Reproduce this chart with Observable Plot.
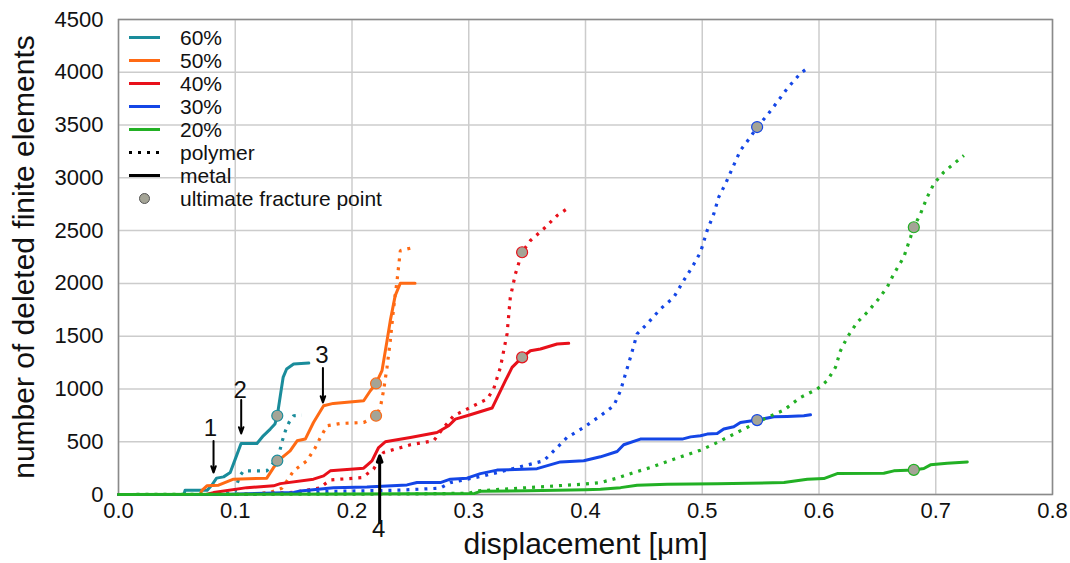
<!DOCTYPE html>
<html><head><meta charset="utf-8">
<script src="https://cdn.jsdelivr.net/npm/d3@7"></script>
<script src="https://cdn.jsdelivr.net/npm/@observablehq/plot@0.6"></script>
<style>
body{margin:0;background:#fff;font-family:"Liberation Sans",Arial,sans-serif;}
#wrap{position:relative;width:1070px;height:563px;}
#legend{position:absolute;left:129px;top:26px;font-size:21px;color:#111;line-height:23px;}
.row{display:flex;align-items:center;height:23px;}
.sw{width:31px;height:3px;margin-right:20px;}
.dotsw{width:31px;height:12px;margin-right:20px;display:flex;align-items:center;justify-content:center;}
</style>
</head><body>
<div id="wrap"><div id="legend"></div></div>
<script>
// ---------- data ----------
const seriesNames = ["60%", "50%", "40%", "30%", "20%"];
const seriesColors = ["#1a8c9b", "#ff6a14", "#e8101a", "#1446e6", "#22b024"];

const x60m = [0, 0.056, 0.057, 0.076, 0.080, 0.084, 0.090, 0.0957, 0.100, 0.105, 0.1186, 0.124, 0.130, 0.134, 0.136, 0.1386, 0.141, 0.144, 0.150, 0.163];
const y60m = [0, 0, 40, 40, 90, 155, 167, 208, 335, 483, 483, 556, 620, 667, 746, 936, 1109, 1189, 1236, 1245];
const x60p = [0, 0.09, 0.100, 0.1015, 0.104, 0.107, 0.127, 0.133, 0.136, 0.1403, 0.143, 0.146, 0.150, 0.157];
const y60p = [0, 0, 30, 100, 176, 224, 224, 303, 320, 509, 604, 682, 746, 752];

const x50m = [0, 0.070, 0.0715, 0.0757, 0.0857, 0.0985, 0.127, 0.1328, 0.140, 0.147, 0.153, 0.160, 0.167, 0.1757, 0.184, 0.210, 0.2157, 0.2206, 0.2257, 0.230, 0.2328, 0.237, 0.2414, 0.254];
const y50m = [0, 0, 40, 82, 88, 145, 155, 255, 350, 414, 509, 525, 682, 841, 863, 888, 983, 1052, 1173, 1457, 1647, 1884, 2001, 2001];
const x50p = [0, 0.11, 0.13, 0.14, 0.1443, 0.150, 0.1614, 0.1686, 0.1729, 0.1786, 0.190, 0.210, 0.2157, 0.2206, 0.2243, 0.227, 0.230, 0.2328, 0.2357, 0.2386, 0.2414, 0.2514];
const y50p = [0, 0, 20, 60, 129, 224, 319, 445, 540, 651, 673, 682, 714, 746, 825, 983, 1204, 1457, 1773, 2027, 2311, 2337];

const x40m = [0, 0.075, 0.0814, 0.110, 0.1328, 0.1386, 0.167, 0.1757, 0.1814, 0.210, 0.2171, 0.2228, 0.2285, 0.250, 0.2728, 0.2828, 0.2885, 0.2985, 0.320, 0.3314, 0.3371, 0.3457, 0.3528, 0.3614, 0.3757, 0.3856];
const y40m = [0, 0, 18, 65, 82, 103, 145, 176, 224, 249, 319, 445, 499, 540, 587, 651, 714, 746, 819, 1078, 1204, 1299, 1362, 1378, 1426, 1432];
const x40p = [0, 0.10, 0.15, 0.172, 0.1814, 0.2085, 0.2185, 0.227, 0.250, 0.270, 0.2785, 0.2871, 0.2985, 0.3157, 0.3213, 0.3271, 0.3328, 0.3356, 0.340, 0.3457, 0.3528, 0.3642, 0.3757, 0.3842];
const y40p = [0, 0, 20, 60, 138, 160, 240, 398, 471, 509, 635, 746, 809, 904, 999, 1204, 1521, 1868, 2090, 2295, 2406, 2517, 2643, 2707];

const x30m = [0, 0.09, 0.15, 0.1557, 0.1842, 0.2128, 0.2471, 0.2557, 0.2757, 0.2842, 0.2985, 0.310, 0.3242, 0.3585, 0.3785, 0.3985, 0.4128, 0.4271, 0.4327, 0.447, 0.4828, 0.490, 0.4985, 0.5042, 0.5128, 0.5184, 0.527, 0.5327, 0.547, 0.5613, 0.5727, 0.587, 0.5927];
const y30m = [0, 0, 20, 34, 65, 72, 91, 113, 113, 145, 155, 198, 231, 245, 309, 319, 357, 407, 471, 525, 525, 546, 556, 572, 578, 620, 641, 682, 705, 736, 739, 746, 755];
const x30p = [0, 0.12, 0.1557, 0.1842, 0.2414, 0.2757, 0.2842, 0.3128, 0.3414, 0.3642, 0.3757, 0.3842, 0.3985, 0.4128, 0.4242, 0.430, 0.4342, 0.4385, 0.4442, 0.4528, 0.4642, 0.4756, 0.4841, 0.4913, 0.4985, 0.5042, 0.5099, 0.5141, 0.5199, 0.5256, 0.5327, 0.5413, 0.547, 0.5556, 0.5642, 0.5727, 0.584, 0.5913];
const y30p = [0, 0, 15, 30, 41, 60, 113, 176, 255, 319, 445, 540, 635, 746, 841, 983, 1141, 1299, 1521, 1616, 1758, 1868, 2027, 2153, 2295, 2501, 2659, 2817, 2944, 3086, 3260, 3386, 3481, 3592, 3718, 3845, 3988, 4050];

const x20m = [0, 0.20, 0.305, 0.31, 0.35, 0.40, 0.4128, 0.430, 0.4442, 0.470, 0.5128, 0.570, 0.590, 0.6041, 0.6156, 0.6555, 0.6641, 0.6812, 0.6898, 0.6955, 0.7098, 0.727];
const y20m = [0, 5, 10, 30, 35, 45, 50, 65, 88, 98, 103, 113, 145, 151, 198, 202, 224, 233, 246, 281, 297, 309];
const x20p = [0, 0.25, 0.30, 0.307, 0.336, 0.3985, 0.4128, 0.4271, 0.4413, 0.4556, 0.470, 0.4841, 0.4985, 0.5128, 0.527, 0.5413, 0.5556, 0.570, 0.584, 0.5985, 0.607, 0.6141, 0.6184, 0.6242, 0.6327, 0.6413, 0.6499, 0.6584, 0.6641, 0.6726, 0.6784, 0.6812, 0.6869, 0.6927, 0.6984, 0.7069, 0.7155, 0.7241];
const y20p = [0, 5, 12, 34, 55, 98, 113, 155, 208, 255, 312, 366, 420, 492, 572, 651, 730, 800, 919, 999, 1078, 1204, 1362, 1489, 1631, 1726, 1837, 1963, 2090, 2248, 2437, 2532, 2659, 2817, 2944, 3054, 3134, 3212];

// ultimate fracture points
const fracSeries = ["60%", "60%", "50%", "50%", "40%", "40%", "30%", "30%", "20%", "20%"];
const fracX = [0.136, 0.136, 0.2206, 0.2206, 0.3457, 0.3457, 0.547, 0.547, 0.6812, 0.6812];
const fracY = [746, 320, 1052, 746, 1299, 2295, 3481, 705, 2532, 233];

// annotations
const annText = ["1", "2", "3", "4"];
const annArrowX = [0.0814, 0.1051, 0.1751, 0.2237];
const annArrowY1 = [508, 895, 1198, -267];
const annArrowY2 = [208, 578, 872, 366];
const annTextX = [0.0787, 0.1043, 0.1743, 0.2228];
const annTextY = [629, 990, 1315, -329];
const annWidth = [2, 2, 2, 3];

const xTicks = [0, 0.1, 0.2, 0.3, 0.4, 0.5, 0.6, 0.7, 0.8];
const yTicks = [0, 500, 1000, 1500, 2000, 2500, 3000, 3500, 4000, 4500];
const xTitle = "displacement [μm]";
const yTitle = "number of deleted finite elements";

const legendLabels = ["60%", "50%", "40%", "30%", "20%", "polymer", "metal", "ultimate fracture point"];

// ---------- build ----------
const metal = [[x60m, y60m], [x50m, y50m], [x40m, y40m], [x30m, y30m], [x20m, y20m]];
const polymer = [[x60p, y60p], [x50p, y50p], [x40p, y40p], [x30p, y30p], [x20p, y20p]];
const toRows = (xs, ys, s) => xs.map((x, i) => ({x, y: ys[i], s}));
const colorOf = s => seriesColors[seriesNames.indexOf(s)];

const lineMarks = [];
seriesNames.forEach((s, i) => {
  lineMarks.push(Plot.line(toRows(polymer[i][0], polymer[i][1], s), {x: "x", y: "y", stroke: seriesColors[i], strokeWidth: 3.2, strokeDasharray: "3,6", strokeLinecap: "butt", strokeLinejoin: "miter"}));
  lineMarks.push(Plot.line(toRows(metal[i][0], metal[i][1], s), {x: "x", y: "y", stroke: seriesColors[i], strokeWidth: 3}));
});

const frac = fracX.map((x, i) => ({x, y: fracY[i], s: fracSeries[i]}));
const ann = annText.map((t, i) => ({t, ax: annArrowX[i], y1: annArrowY1[i], y2: annArrowY2[i], tx: annTextX[i], ty: annTextY[i], w: annWidth[i]}));

const chart = Plot.plot({
  width: 1070, height: 563,
  marginLeft: 118, marginRight: 18, marginTop: 19, marginBottom: 69,
  x: {domain: [0, 0.8]},
  y: {domain: [0, 4500]},
  style: {fontFamily: "'Liberation Sans', Arial, sans-serif", background: "white", color: "#111"},
  marks: [
    Plot.gridX(xTicks, {stroke: "#cccccc", strokeOpacity: 1, strokeWidth: 1.5}),
    Plot.gridY(yTicks, {stroke: "#cccccc", strokeOpacity: 1, strokeWidth: 1.5}),
    Plot.frame({stroke: "#8a8a8a", strokeWidth: 1.5}),
    Plot.axisX(xTicks, {tickFormat: d => d.toFixed(1), tickSize: 0, tickPadding: 8, fontSize: 22, label: null}),
    Plot.axisY(yTicks, {tickFormat: d3.format("d"), tickSize: 0, tickPadding: 15, fontSize: 22, label: null}),
    Plot.text([xTitle], {frameAnchor: "bottom", dy: 50, lineAnchor: "middle", textAnchor: "middle", fontSize: 30, text: d => d}),
    Plot.text([yTitle], {frameAnchor: "left", dx: -94, rotate: -90, textAnchor: "middle", lineAnchor: "middle", fontSize: 30, text: d => d}),
    ...lineMarks,
    Plot.dot(frac, {x: "x", y: "y", r: 5.5, fill: "#a4a496", stroke: d => colorOf(d.s), strokeWidth: 1.2}),
    Plot.arrow(ann, {x1: "ax", x2: "ax", y1: "y1", y2: "y2", stroke: "black", strokeWidth: d => d.w, headLength: 10, headAngle: 40}),
    Plot.text(ann, {x: "tx", y: "ty", text: "t", fontSize: 24, fill: "#111"})
  ]
});
document.getElementById("wrap").prepend(chart);

// legend
const legend = d3.select("#legend");
legendLabels.forEach((lab, i) => {
  const row = legend.append("div").attr("class", "row");
  if (i < seriesNames.length) {
    row.append("div").attr("class", "sw").style("background", seriesColors[i]);
  } else if (lab === "polymer") {
    row.append("div").attr("class", "sw").style("background", "repeating-linear-gradient(90deg,#000 0 3px,transparent 3px 9px)");
  } else if (lab === "metal") {
    row.append("div").attr("class", "sw").style("background", "#000");
  } else {
    row.append("div").attr("class", "dotsw").append("span")
      .style("display", "block").style("width", "9px").style("height", "9px")
      .style("border-radius", "50%").style("background", "#a4a496").style("border", "1px solid #555");
  }
  row.append("span").text(lab);
});
</script>
</body></html>
